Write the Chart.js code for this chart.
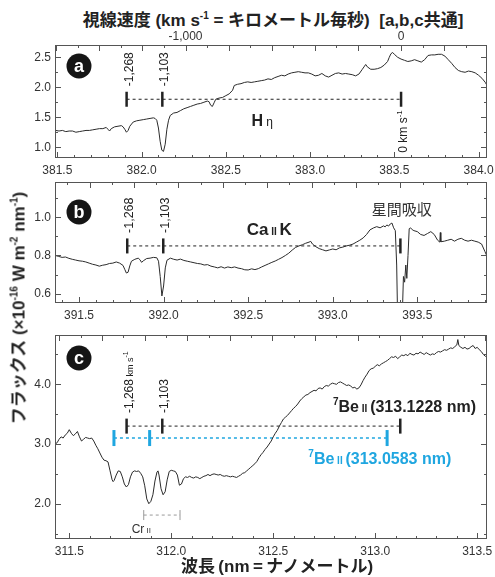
<!DOCTYPE html>
<html lang="ja">
<head>
<meta charset="utf-8">
<title>Be II spectrum</title>
<script src="https://cdn.jsdelivr.net/npm/chart.js@4.4.1/dist/chart.umd.min.js"></script>
<style>
    body { margin: 0; background: #fff; }
    #figure { position: relative; width: 495px; height: 577px; overflow: hidden; color: #222;
              font-family: "Liberation Sans", "Noto Sans CJK JP", sans-serif; }
    #figure canvas { position: absolute; left: 0; }
    .caption { position: absolute; white-space: nowrap; font-weight: bold; font-size: 17px; line-height: 1;
               transform: translate(-50%, -50%); }
    .caption sup { font-size: 10px; vertical-align: 7px; line-height: 0; }
</style>
</head>
<body>
<div id="figure">
    <canvas id="chartA" width="495" height="148" style="top:30px"></canvas>
    <canvas id="chartB" width="495" height="150" style="top:175px"></canvas>
    <canvas id="chartC" width="495" height="235" style="top:325px"></canvas>
    <div class="caption" style="left:273px; top:20px">視線速度 (km s<sup>-1</sup> = キロメートル毎秒) &nbsp;[a,b,c共通]</div>
    <div class="caption" style="left:19px; top:308px; transform: translate(-50%, -50%) rotate(-90deg)">フラックス (×10<sup>-16</sup> W m<sup>-2</sup> nm<sup>-1</sup>)</div>
    <div class="caption" style="left:277px; top:566px">波長&thinsp;(nm&thinsp;=&thinsp;ナノメートル)</div>
</div>
<script>
const LIGHT_SPEED = 299792.458;
const FONT = '"Liberation Sans", Arial, sans-serif';
const CJK_FONT = '"Noto Sans CJK JP", sans-serif';
const INK = '#2b2b2b';
const FRAME = '#555555';
const BLUE = '#1fa6e0';

// panel a : H eta
const waveA = [
    381.49, 381.51, 381.53, 381.55, 381.57, 381.59, 381.61, 381.63, 381.65, 381.67,
    381.69, 381.71, 381.73, 381.75, 381.77, 381.79, 381.80, 381.81, 381.82, 381.84,
    381.86, 381.88, 381.89, 381.90, 381.91, 381.92, 381.93, 381.95, 381.97, 381.99,
    382.01, 382.03, 382.05, 382.07, 382.08, 382.09, 382.10, 382.11, 382.12, 382.13,
    382.14, 382.15, 382.16, 382.17, 382.19, 382.21, 382.23, 382.25, 382.27, 382.29,
    382.31, 382.33, 382.35, 382.37, 382.39, 382.40, 382.41, 382.42, 382.43, 382.44,
    382.46, 382.48, 382.50, 382.52, 382.54, 382.55, 382.57, 382.59, 382.61, 382.63,
    382.65, 382.67, 382.69, 382.71, 382.73, 382.75, 382.77, 382.79, 382.81, 382.83,
    382.85, 382.87, 382.89, 382.91, 382.93, 382.95, 382.97, 382.99, 383.01, 383.03,
    383.05, 383.07, 383.09, 383.11, 383.13, 383.15, 383.17, 383.19, 383.21, 383.23,
    383.25, 383.27, 383.29, 383.31, 383.32, 383.33, 383.34, 383.36, 383.38, 383.40,
    383.42, 383.44, 383.46, 383.47, 383.48, 383.49, 383.50, 383.52, 383.54, 383.56,
    383.58, 383.60, 383.62, 383.64, 383.66, 383.68, 383.70, 383.72, 383.74, 383.76,
    383.78, 383.80, 383.82, 383.84, 383.86, 383.88, 383.90, 383.92, 383.94, 383.96,
    383.98, 384.00, 384.02, 384.04, 384.05
];
const fluxA = [
    1.28, 1.27, 1.28, 1.26, 1.27, 1.27, 1.25, 1.26, 1.27, 1.28,
    1.28, 1.29, 1.30, 1.31, 1.31, 1.33, 1.30, 1.27, 1.31, 1.34,
    1.35, 1.36, 1.34, 1.30, 1.25, 1.28, 1.35, 1.42, 1.44, 1.45,
    1.46, 1.47, 1.48, 1.49, 1.48, 1.45, 1.32, 1.10, 0.95, 0.93,
    1.05, 1.30, 1.45, 1.53, 1.57, 1.58, 1.61, 1.64, 1.66, 1.68,
    1.70, 1.72, 1.73, 1.75, 1.77, 1.76, 1.70, 1.68, 1.74, 1.80,
    1.82, 1.83, 1.86, 1.89, 1.95, 2.03, 2.05, 2.06, 2.08, 2.09,
    2.08, 2.09, 2.10, 2.11, 2.12, 2.14, 2.13, 2.16, 2.18, 2.20,
    2.19, 2.22, 2.24, 2.25, 2.26, 2.25, 2.24, 2.24, 2.22, 2.19,
    2.20, 2.23, 2.19, 2.17, 2.20, 2.23, 2.24, 2.22, 2.23, 2.22,
    2.21, 2.19, 2.22, 2.30, 2.34, 2.38, 2.34, 2.30, 2.30, 2.31,
    2.33, 2.37, 2.43, 2.50, 2.56, 2.58, 2.55, 2.50, 2.47, 2.45,
    2.43, 2.44, 2.46, 2.44, 2.42, 2.46, 2.53, 2.54, 2.54, 2.55,
    2.55, 2.52, 2.46, 2.40, 2.33, 2.28, 2.26, 2.25, 2.27, 2.26,
    2.24, 2.20, 2.15, 2.08, 2.03
];
const restA = 383.54;
const markA = [381.911, 382.123, 383.54];
const xTicksA = [381.5, 382.0, 382.5, 383.0, 383.5, 384.0];
const yTicksA = [1.0, 1.5, 2.0, 2.5];
const topTicksA = [-1000, 0];
const topLabelsA = ['-1,000', '0'];

// panel b : Ca II K
const waveB = [
    391.36, 391.38, 391.40, 391.42, 391.44, 391.46, 391.48, 391.50, 391.52, 391.54,
    391.56, 391.58, 391.60, 391.62, 391.64, 391.66, 391.68, 391.70, 391.72, 391.74,
    391.76, 391.77, 391.78, 391.79, 391.80, 391.81, 391.83, 391.85, 391.86, 391.87,
    391.88, 391.90, 391.92, 391.94, 391.96, 391.97, 391.98, 391.99, 392.00, 392.01,
    392.02, 392.04, 392.06, 392.08, 392.10, 392.12, 392.14, 392.16, 392.18, 392.20,
    392.22, 392.24, 392.26, 392.28, 392.30, 392.32, 392.34, 392.36, 392.38, 392.40,
    392.42, 392.44, 392.46, 392.48, 392.50, 392.52, 392.54, 392.56, 392.58, 392.60,
    392.62, 392.64, 392.66, 392.68, 392.70, 392.72, 392.74, 392.76, 392.78, 392.80,
    392.82, 392.84, 392.86, 392.87, 392.88, 392.90, 392.92, 392.94, 392.96, 392.98,
    393.00, 393.02, 393.04, 393.06, 393.08, 393.10, 393.12, 393.14, 393.16, 393.18,
    393.20, 393.22, 393.24, 393.26, 393.28, 393.30, 393.31, 393.32, 393.33, 393.34,
    393.35, 393.36, 393.37, 393.378, 393.385, 393.395, 393.405, 393.41, 393.418, 393.425,
    393.432, 393.438, 393.445, 393.452, 393.46, 393.47, 393.48, 393.50, 393.52, 393.54,
    393.56, 393.58, 393.60, 393.62, 393.633, 393.636, 393.639, 393.66, 393.68, 393.70,
    393.72, 393.74, 393.76, 393.78, 393.80, 393.82, 393.84, 393.86, 393.88, 393.90,
    393.91
];
const fluxB = [
    0.800, 0.795, 0.790, 0.792, 0.785, 0.780, 0.776, 0.772, 0.770, 0.766,
    0.760, 0.754, 0.750, 0.744, 0.749, 0.752, 0.758, 0.760, 0.766, 0.760,
    0.748, 0.728, 0.708, 0.712, 0.745, 0.770, 0.780, 0.786, 0.778, 0.764,
    0.772, 0.784, 0.786, 0.790, 0.788, 0.770, 0.690, 0.588, 0.640, 0.735,
    0.775, 0.786, 0.780, 0.776, 0.781, 0.774, 0.770, 0.766, 0.762, 0.758,
    0.756, 0.750, 0.752, 0.744, 0.740, 0.735, 0.741, 0.734, 0.740, 0.736,
    0.740, 0.734, 0.731, 0.725, 0.724, 0.730, 0.726, 0.731, 0.740, 0.748,
    0.756, 0.764, 0.771, 0.780, 0.789, 0.800, 0.812, 0.828, 0.842, 0.850,
    0.856, 0.864, 0.870, 0.874, 0.860, 0.846, 0.836, 0.830, 0.824, 0.829,
    0.834, 0.830, 0.840, 0.844, 0.850, 0.854, 0.860, 0.870, 0.880, 0.892,
    0.910, 0.934, 0.944, 0.951, 0.945, 0.955, 0.950, 0.960, 0.954, 0.965,
    0.970, 0.945, 0.930, 0.750, 0.400, 0.400, 0.400, 0.450, 0.690, 0.660,
    0.750, 0.680, 0.800, 0.940, 0.945, 0.935, 0.930, 0.925, 0.910, 0.905,
    0.915, 0.925, 0.910, 0.880, 0.870, 0.920, 0.872, 0.875, 0.880, 0.885,
    0.875, 0.885, 0.890, 0.880, 0.875, 0.880, 0.875, 0.870, 0.860, 0.820,
    0.800
];
const restB = 393.40;
const markB = [391.785, 391.998, 393.40];
const xTicksB = [391.5, 392.0, 392.5, 393.0, 393.5];
const yTicksB = [0.6, 0.8, 1.0];

// panel c : 7Be II
const waveC = [
    311.43, 311.44, 311.45, 311.46, 311.47, 311.48, 311.49, 311.50, 311.51, 311.52,
    311.53, 311.54, 311.55, 311.56, 311.57, 311.58, 311.59, 311.60, 311.61, 311.62,
    311.63, 311.64, 311.65, 311.66, 311.67, 311.68, 311.69, 311.70, 311.71, 311.715,
    311.72, 311.73, 311.74, 311.75, 311.76, 311.77, 311.78, 311.79, 311.80, 311.81,
    311.82, 311.83, 311.84, 311.85, 311.86, 311.87, 311.88, 311.89, 311.90, 311.91,
    311.92, 311.93, 311.935, 311.94, 311.95, 311.96, 311.97, 311.98, 311.99, 312.00,
    312.01, 312.02, 312.03, 312.04, 312.05, 312.06, 312.07, 312.08, 312.09, 312.10,
    312.11, 312.12, 312.13, 312.14, 312.15, 312.16, 312.17, 312.18, 312.19, 312.20,
    312.21, 312.22, 312.23, 312.24, 312.25, 312.26, 312.27, 312.28, 312.29, 312.30,
    312.31, 312.32, 312.33, 312.34, 312.35, 312.36, 312.37, 312.38, 312.39, 312.40,
    312.41, 312.42, 312.43, 312.44, 312.45, 312.46, 312.47, 312.48, 312.49, 312.50,
    312.51, 312.52, 312.53, 312.54, 312.55, 312.56, 312.57, 312.58, 312.59, 312.60,
    312.61, 312.62, 312.63, 312.64, 312.65, 312.66, 312.67, 312.68, 312.69, 312.70,
    312.71, 312.72, 312.73, 312.74, 312.75, 312.76, 312.77, 312.78, 312.79, 312.80,
    312.81, 312.82, 312.83, 312.84, 312.85, 312.86, 312.87, 312.88, 312.89, 312.90,
    312.91, 312.92, 312.93, 312.94, 312.95, 312.96, 312.97, 312.98, 312.99, 313.00,
    313.01, 313.02, 313.03, 313.04, 313.05, 313.06, 313.07, 313.08, 313.09, 313.10,
    313.11, 313.12, 313.13, 313.14, 313.15, 313.16, 313.17, 313.18, 313.19, 313.20,
    313.21, 313.22, 313.23, 313.24, 313.25, 313.26, 313.27, 313.28, 313.29, 313.30,
    313.31, 313.32, 313.33, 313.34, 313.35, 313.36, 313.37, 313.38, 313.39, 313.40,
    313.405, 313.41, 313.42, 313.43, 313.44, 313.45, 313.46, 313.47, 313.48, 313.49,
    313.50, 313.51, 313.52, 313.53, 313.54, 313.55
];
const fluxC = [
    3.00, 3.02, 3.08, 3.12, 3.10, 3.15, 3.18, 3.24, 3.18, 3.14,
    3.17, 3.21, 3.12, 3.05, 3.08, 3.11, 3.10, 3.09, 3.10, 3.05,
    2.98, 2.92, 2.85, 2.78, 2.73, 2.72, 2.70, 2.55, 2.40, 2.37,
    2.39, 2.48, 2.55, 2.54, 2.45, 2.33, 2.28, 2.32, 2.45, 2.53,
    2.55, 2.54, 2.55, 2.51, 2.45, 2.30, 2.08, 2.00, 2.04, 2.15,
    2.38, 2.53, 2.55, 2.48, 2.25, 2.15, 2.20, 2.40, 2.54, 2.56,
    2.55, 2.54, 2.48, 2.31, 2.33, 2.42, 2.45, 2.44, 2.46, 2.44,
    2.43, 2.45, 2.44, 2.42, 2.44, 2.46, 2.47, 2.49, 2.47, 2.49,
    2.50, 2.49, 2.48, 2.49, 2.47, 2.46, 2.47, 2.46, 2.45, 2.46,
    2.45, 2.44, 2.46, 2.48, 2.51, 2.52, 2.55, 2.58, 2.61, 2.64,
    2.67, 2.71, 2.77, 2.82, 2.86, 2.91, 2.95, 3.00, 3.05, 3.12,
    3.18, 3.23, 3.30, 3.36, 3.42, 3.45, 3.48, 3.52, 3.56, 3.60,
    3.63, 3.67, 3.72, 3.76, 3.79, 3.82, 3.83, 3.86, 3.88, 3.90,
    3.89, 3.93, 3.94, 3.92, 3.96, 3.98, 3.97, 4.00, 4.02, 4.01,
    4.00, 4.03, 4.04, 4.02, 4.00, 3.98, 3.99, 3.97, 3.94, 3.95,
    3.92, 3.94, 3.99, 4.06, 4.12, 4.17, 4.23, 4.26, 4.27, 4.30,
    4.33, 4.31, 4.34, 4.36, 4.38, 4.40, 4.43, 4.46, 4.45, 4.47,
    4.43, 4.46, 4.49, 4.48, 4.50, 4.48, 4.52, 4.50, 4.49, 4.52,
    4.51, 4.54, 4.52, 4.50, 4.53, 4.51, 4.49, 4.51, 4.50, 4.53,
    4.55, 4.54, 4.56, 4.58, 4.57, 4.59, 4.61, 4.60, 4.63, 4.66,
    4.75, 4.65, 4.62, 4.60, 4.62, 4.59, 4.60, 4.63, 4.65, 4.60,
    4.62, 4.58, 4.55, 4.50, 4.47, 4.45
];
const restC = 313.1228;
const markC = [311.781, 311.956, 313.1228];
const markCBlue = [311.719, 311.894, 313.0583];
const crRange = [311.865, 312.043];
const xTicksC = [311.5, 312.0, 312.5, 313.0, 313.5];
const yTicksC = [2.0, 3.0, 4.0];

const velLabels = ['-1,268', '-1,103'];

function toVelocity(wave, rest) {
    return (wave / rest - 1) * LIGHT_SPEED;
}

function partFont(p) {
    return (p.bold ? 'bold ' : '') + p.size + 'px ' + (p.cjk ? CJK_FONT : FONT);
}

function measureParts(ctx, parts) {
    let w = 0;
    parts.forEach(p => {
        ctx.font = partFont(p);
        w += ctx.measureText(p.t).width;
    });
    return w;
}

function drawParts(ctx, parts, x, y) {
    let cx = x;
    parts.forEach(p => {
        ctx.font = partFont(p);
        ctx.fillText(p.t, cx, y + (p.dy || 0));
        cx += ctx.measureText(p.t).width;
    });
}

function drawFrame(chart, deco) {
    const ctx = chart.ctx;
    const area = chart.chartArea;
    const xs = chart.scales.x;
    const ys = chart.scales.y;

    ctx.strokeStyle = FRAME;
    ctx.lineWidth = 1;
    ctx.strokeRect(area.left + 0.5, area.top + 0.5, area.right - area.left - 1, area.bottom - area.top - 1);

    ctx.beginPath();
    // wavelength ticks, 0.1 nm
    for (let k = Math.ceil(xs.min * 10); k <= Math.floor(xs.max * 10); k++) {
        const px = Math.round(xs.getPixelForValue(k / 10)) + 0.5;
        const len = k % 5 === 0 ? 6 : 3;
        ctx.moveTo(px, area.bottom);
        ctx.lineTo(px, area.bottom - len);
    }
    // velocity ticks, 100 km/s
    const vMin = toVelocity(xs.min, deco.rest);
    const vMax = toVelocity(xs.max, deco.rest);
    for (let k = Math.ceil(vMin / 100); k <= Math.floor(vMax / 100); k++) {
        const px = Math.round(xs.getPixelForValue(deco.rest * (1 + k * 100 / LIGHT_SPEED))) + 0.5;
        const len = k % 2 === 0 ? 6 : 3;
        ctx.moveTo(px, area.top);
        ctx.lineTo(px, area.top + len);
    }
    // flux ticks both sides
    for (let k = Math.ceil(ys.min / deco.yStep - 1e-6); k <= Math.floor(ys.max / deco.yStep + 1e-6); k++) {
        const py = Math.round(ys.getPixelForValue(k * deco.yStep)) + 0.5;
        const len = k % deco.yMajorEvery === 0 ? 6 : 3;
        ctx.moveTo(area.left, py);
        ctx.lineTo(area.left + len, py);
        ctx.moveTo(area.right, py);
        ctx.lineTo(area.right - len, py);
    }
    ctx.stroke();
}

function drawBadge(chart, badge) {
    const ctx = chart.ctx;
    const cx = chart.chartArea.left + badge.dx;
    const cy = chart.chartArea.top + badge.dy;
    ctx.fillStyle = '#151515';
    ctx.beginPath();
    ctx.arc(cx, cy, 12.5, 0, Math.PI * 2);
    ctx.fill();
    ctx.fillStyle = '#ffffff';
    ctx.font = 'bold 18px ' + FONT;
    ctx.textAlign = 'center';
    ctx.textBaseline = 'middle';
    ctx.fillText(badge.letter, cx, cy + 1);
    ctx.textAlign = 'left';
    ctx.textBaseline = 'alphabetic';
}

function drawRotated(chart, r) {
    const ctx = chart.ctx;
    const px = chart.scales.x.getPixelForValue(r.wave);
    const py = chart.scales.y.getPixelForValue(r.level);
    const w = measureParts(ctx, r.parts);
    const start = r.side === 'above' ? py - 8 - 5 : py + 8 + 3 + w;
    ctx.save();
    ctx.fillStyle = r.color || '#222';
    ctx.translate(px + 6, start);
    ctx.rotate(-Math.PI / 2);
    drawParts(ctx, r.parts, 0, 0);
    ctx.restore();
}

function drawNote(chart, n) {
    const ctx = chart.ctx;
    ctx.fillStyle = n.color;
    drawParts(ctx, n.parts, chart.scales.x.getPixelForValue(n.wave), chart.scales.y.getPixelForValue(n.value));
}

const decorations = {};

const decorPlugin = {
    id: 'decor',
    afterDatasetsDraw(chart) {
        const deco = decorations[chart.canvas.id];
        const ctx = chart.ctx;
        ctx.save();
        ctx.textAlign = 'left';
        ctx.textBaseline = 'alphabetic';
        drawFrame(chart, deco);
        drawBadge(chart, deco.badge);
        deco.rotated.forEach(r => drawRotated(chart, r));
        deco.notes.forEach(n => drawNote(chart, n));
        ctx.restore();
    }
};

function markerDataset(waves, level, color, half, barWidth, lineWidth) {
    return {
        data: waves.map(w => ({ x: w, y: level })),
        borderColor: color,
        borderWidth: lineWidth,
        borderDash: [3, 3],
        pointStyle: 'line',
        pointRotation: 90,
        pointRadius: half,
        pointBorderWidth: barWidth,
        pointBorderColor: color,
        pointBackgroundColor: color
    };
}

function createPanel(id, cfg) {
    const tickFont = { size: 12, family: FONT };
    const scales = {
        x: {
            type: 'linear', position: 'bottom', min: cfg.xMin, max: cfg.xMax,
            grid: { display: false, drawTicks: false },
            border: { display: false },
            ticks: { padding: 5, color: '#333', font: tickFont, autoSkip: false, maxRotation: 0, callback: v => v.toFixed(1) },
            afterBuildTicks: s => { s.ticks = cfg.xTicks.map(v => ({ value: v })); },
            afterFit: s => { s.height = cfg.xAxisHeight; s.paddingLeft = 0; s.paddingRight = 0; }
        },
        y: {
            type: 'linear', position: 'left', min: cfg.yMin, max: cfg.yMax,
            grid: { display: false, drawTicks: false },
            border: { display: false },
            ticks: { padding: 4, color: '#333', font: tickFont, autoSkip: false, callback: v => v.toFixed(1) },
            afterBuildTicks: s => { s.ticks = cfg.yTicks.map(v => ({ value: v })); },
            afterFit: s => { s.width = 55; s.paddingTop = 0; s.paddingBottom = 0; }
        }
    };
    if (cfg.topTicks) {
        scales.x2 = {
            type: 'linear', position: 'top',
            min: toVelocity(cfg.xMin, cfg.rest), max: toVelocity(cfg.xMax, cfg.rest),
            grid: { display: false, drawTicks: false },
            border: { display: false },
            ticks: { padding: 1, color: '#333', font: tickFont, autoSkip: false, maxRotation: 0, callback: (v, i) => cfg.topLabels[i] },
            afterBuildTicks: s => { s.ticks = cfg.topTicks.map(v => ({ value: v })); },
            afterFit: s => { s.height = 15; s.paddingLeft = 0; s.paddingRight = 0; }
        };
    }

    const datasets = [{
        data: cfg.wave.map((w, i) => ({ x: w, y: cfg.flux[i] })),
        borderColor: INK,
        borderWidth: 1,
        pointRadius: 0,
        tension: 0
    }].concat(cfg.markers);

    return new Chart(document.getElementById(id), {
        type: 'line',
        data: { datasets: datasets },
        options: {
            responsive: false,
            animation: false,
            layout: { autoPadding: false, padding: { top: cfg.padTop, right: 8, left: 0, bottom: 0 } },
            plugins: { legend: { display: false }, tooltip: { enabled: false } },
            scales: scales
        },
        plugins: [decorPlugin]
    });
}

// panel a
decorations.chartA = {
    rest: restA, yStep: 0.25, yMajorEvery: 2,
    badge: { dx: 24, dy: 21, letter: 'a' },
    rotated: [
        { wave: markA[0], level: 1.8, side: 'above', parts: [{ t: velLabels[0], size: 12 }] },
        { wave: markA[1], level: 1.8, side: 'above', parts: [{ t: velLabels[1], size: 12 }] },
        { wave: markA[2], level: 1.8, side: 'below', parts: [{ t: '0 km s', size: 12 }, { t: '-1', size: 8, dy: -5 }] }
    ],
    notes: [
        { wave: 382.652, value: 1.355, color: '#222', parts: [{ t: 'H', size: 16, bold: true }, { t: ' η', size: 12 }] }
    ]
};
createPanel('chartA', {
    wave: waveA, flux: fluxA, rest: restA,
    xMin: 381.486, xMax: 384.05, yMin: 0.82, yMax: 2.705,
    xTicks: xTicksA, yTicks: yTicksA, topTicks: topTicksA, topLabels: topLabelsA,
    xAxisHeight: 20, padTop: 0,
    markers: [markerDataset(markA, 1.8, '#222', 7.5, 2.5, 1)]
});

// panel b
decorations.chartB = {
    rest: restB, yStep: 0.1, yMajorEvery: 2,
    badge: { dx: 24, dy: 30, letter: 'b' },
    rotated: [
        { wave: markB[0], level: 0.85, side: 'above', parts: [{ t: velLabels[0], size: 12.5 }] },
        { wave: markB[1], level: 0.85, side: 'above', parts: [{ t: velLabels[1], size: 12.5 }] }
    ],
    notes: [
        { wave: 392.491, value: 0.907, color: '#222', parts: [{ t: 'Ca', size: 17, bold: true }, { t: ' II ', size: 10, bold: true }, { t: 'K', size: 17, bold: true }] },
        { wave: 393.23, value: 1.012, color: '#333', parts: [{ t: '星間吸収', size: 15, cjk: true }] }
    ]
};
createPanel('chartB', {
    wave: waveB, flux: fluxB, rest: restB,
    xMin: 391.358, xMax: 393.912, yMin: 0.551, yMax: 1.185,
    xTicks: xTicksB, yTicks: yTicksB,
    xAxisHeight: 22, padTop: 7,
    markers: [markerDataset(markB, 0.85, '#222', 7.5, 2.5, 1)]
});

// panel c
decorations.chartC = {
    rest: restC, yStep: 0.5, yMajorEvery: 2,
    badge: { dx: 24, dy: 23, letter: 'c' },
    rotated: [
        { wave: markC[0], level: 3.3, side: 'above', parts: [{ t: velLabels[0], size: 12 }, { t: ' km s', size: 9 }, { t: '-1', size: 7, dy: -5 }] },
        { wave: markC[1], level: 3.3, side: 'above', parts: [{ t: velLabels[1], size: 12 }] }
    ],
    notes: [
        { wave: 312.793, value: 3.541, color: '#222', parts: [{ t: '7', size: 10, bold: true, dy: -7 }, { t: 'Be', size: 16, bold: true }, { t: ' II ', size: 10, bold: true }, { t: '(313.1228 nm)', size: 16, bold: true }] },
        { wave: 312.672, value: 2.665, color: BLUE, parts: [{ t: '7', size: 10, bold: true, dy: -7 }, { t: 'Be', size: 16, bold: true }, { t: ' II ', size: 10, bold: true }, { t: '(313.0583 nm)', size: 16, bold: true }] },
        { wave: 311.806, value: 1.504, color: '#333', parts: [{ t: 'Cr', size: 12 }, { t: ' II', size: 8 }] }
    ]
};
createPanel('chartC', {
    wave: waveC, flux: fluxC, rest: restC,
    xMin: 311.43, xMax: 313.548, yMin: 1.409, yMax: 4.826,
    xTicks: xTicksC, yTicks: yTicksC,
    xAxisHeight: 21, padTop: 10,
    markers: [
        markerDataset(markC, 3.3, '#222', 7.5, 2.5, 1),
        markerDataset(markCBlue, 3.1, BLUE, 8, 3, 1.6),
        markerDataset(crRange, 1.81, '#9a9a9a', 5, 1, 1)
    ]
});
</script>
</body>
</html>
